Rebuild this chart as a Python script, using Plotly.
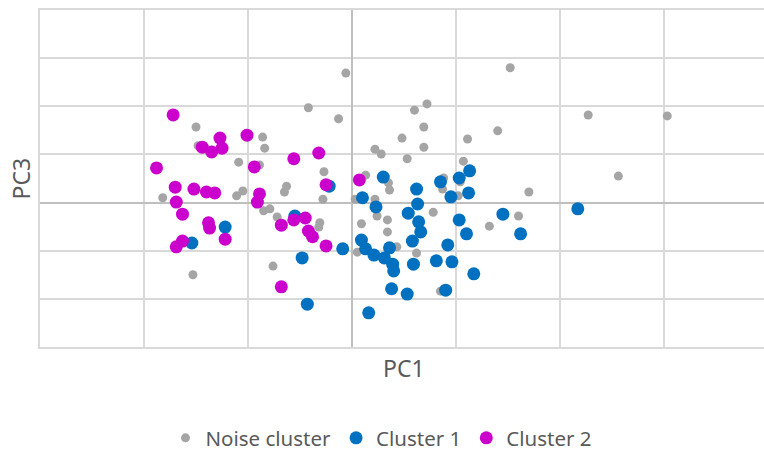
import plotly.graph_objects as go

# ---- data (PC1, PC3) ----
noise_x = [-0.06, 1.52, -0.42, -0.13, 0.72, 0.60, 2.27, 3.03, 0.69, 1.40, 1.11, 0.48, 0.69, 0.22, 0.28,
           0.53, 1.07, 2.56, -1.50, -1.48, -0.86, -0.84, -1.09, -0.89, -0.27, 0.13, -1.82, -1.11, -1.05,
           -0.65, -0.63, -0.28, 0.03, 0.22, 0.35, 0.36, 0.88, 0.87, 1.04, 1.02, 1.70, 0.78, -0.85, -0.79,
           -0.72, -0.31, -0.32, 0.09, 0.34, 0.34, 0.24, 0.05, 0.43, -0.76, -1.53, 1.60, 1.32, 0.62, 0.85]
noise_y = [2.69, 2.80, 1.97, 1.74, 2.05, 1.92, 1.82, 1.80, 1.57, 1.49, 1.32, 1.34, 1.15, 1.11, 1.01,
           0.91, 0.86, 0.55, 1.57, 1.18, 1.36, 1.13, 0.84, 0.78, 0.64, 0.57, 0.10, 0.14, 0.24,
           0.22, 0.34, 0.07, 0.07, 0.07, 0.41, 0.26, 0.51, 0.28, 0.43, 0.14, 0.22, -0.20, -0.17, -0.13,
           -0.30, -0.42, -0.51, -0.44, -0.36, -0.61, -0.28, -1.03, -0.92, -1.32, -1.50, -0.28, -0.49, -1.05, -1.84]

c1_x = [0.30, 1.13, 1.03, 0.85, 0.62, 1.12, 0.95, -0.22, 0.10, 0.23, 0.63, 0.54, 0.64, 0.66, 0.58,
        1.03, 1.10, 1.45, 1.62, 2.17, 0.92, 0.81, 0.96, 0.59, 1.17, 0.90, 0.53, 0.38, -1.22, -1.54,
        -0.55, -0.09, -0.48, 0.09, 0.13, 0.21, 0.31, 0.36, 0.39, 0.40, -0.43, 0.16]
c1_y = [0.53, 0.66, 0.51, 0.43, 0.28, 0.20, 0.12, 0.34, 0.10, -0.09, -0.03, -0.22, -0.40, -0.61, -0.80,
        -0.36, -0.65, -0.24, -0.65, -0.13, -0.88, -1.21, -1.23, -1.28, -1.48, -1.82, -1.90, -1.79, -0.51, -0.84,
        -0.28, -0.96, -1.15, -0.78, -0.96, -1.09, -1.15, -0.94, -1.28, -1.42, -2.11, -2.29]

c2_x = [-1.72, -1.27, -1.44, -1.35, -1.25, -1.01, -1.88, -0.94, -0.56, -0.32, 0.07, -0.25, -1.70, -1.52,
        -1.40, -1.32, -0.89, -0.91, -1.69, -1.63, -1.38, -1.37, -1.22, -1.63, -1.69, -0.68, -0.56, -0.45,
        -0.42, -0.38, -0.25, -0.68]
c2_y = [1.82, 1.34, 1.15, 1.05, 1.13, 1.40, 0.72, 0.74, 0.91, 1.03, 0.47, 0.37, 0.32, 0.28,
        0.22, 0.20, 0.18, 0.01, 0.01, -0.24, -0.42, -0.53, -0.76, -0.80, -0.92, -0.47, -0.36, -0.32,
        -0.59, -0.71, -0.90, -1.75]

names = ["Noise cluster", "Cluster 1", "Cluster 2"]
colors = ["#A5A5A5", "#0070C0", "#CC00CC"]
sizes = [9, 13, 13]

FONT = "Noto Sans"
TXT = "#595959"
GRID = "#D9D9D9"

fig = go.Figure()
for xs, ys, nm, col, sz in zip([noise_x, c1_x, c2_x], [noise_y, c1_y, c2_y], names, colors, sizes):
    fig.add_trace(go.Scatter(x=xs, y=ys, mode="markers", name=nm,
                             marker=dict(color=col, size=sz, line=dict(width=0))))

fig.update_layout(
    width=764, height=452,
    margin=dict(l=40, r=0, t=10, b=105, autoexpand=False),
    paper_bgcolor="white", plot_bgcolor="white",
    showlegend=True,
    legend=dict(orientation="h", x=0.471, xanchor="center", y=-0.27, yanchor="middle",
                font=dict(family=FONT, size=20.5, color=TXT), itemsizing="trace",
                itemwidth=30, tracegroupgap=0),
    font=dict(family=FONT, color=TXT),
)
fig.update_xaxes(range=[-3, 3.96], dtick=1, tick0=0, showticklabels=False, ticks="",
                 showgrid=True, gridcolor=GRID, gridwidth=1.5,
                 zeroline=True, zerolinecolor="#BFBFBF", zerolinewidth=1.5,
                 showline=True, linecolor=GRID, linewidth=1.5, mirror=True)
fig.update_yaxes(range=[-3, 4], dtick=1, tick0=0, showticklabels=False, ticks="",
                 showgrid=True, gridcolor=GRID, gridwidth=1.5,
                 zeroline=True, zerolinecolor="#BFBFBF", zerolinewidth=1.5,
                 showline=True, linecolor=GRID, linewidth=1.5, mirror=False)

fig.add_annotation(text="PC1", xref="paper", yref="paper", x=0.503, y=-0.062,
                   xanchor="center", yanchor="middle", showarrow=False,
                   font=dict(family=FONT, size=23, color=TXT))
fig.add_annotation(text="PC3", xref="paper", yref="paper", x=-0.0276, y=0.5,
                   xanchor="center", yanchor="middle", showarrow=False, textangle=-90,
                   font=dict(family=FONT, size=23, color=TXT))

fig.write_html("out.html", config={"displayModeBar": False},
               post_script="document.body.style.margin='0';")
